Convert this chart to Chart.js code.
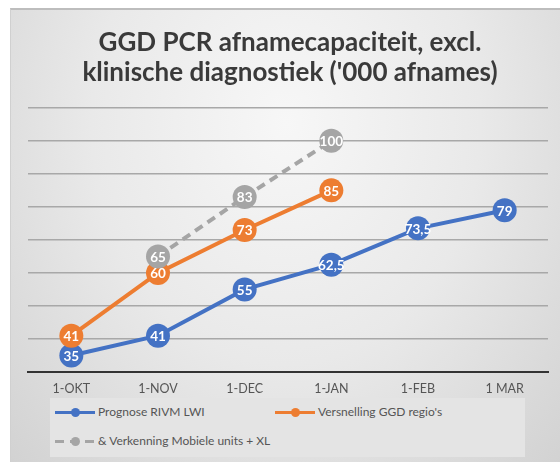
<!DOCTYPE html>
<html>
<head>
<meta charset="utf-8">
<script src="https://cdn.jsdelivr.net/npm/chart.js@4/dist/chart.umd.min.js"></script>
<style>
  body { margin: 0; background: #fff; }
  #wrap {
    position: absolute; left: 10px; top: 8px; width: 550px; height: 454px;
    border-top: 2px solid #bdbdbd; border-left: 1px solid #d0d0d0;
    background: radial-gradient(ellipse at 50% 25%, #f7f7f7 0%, #e9e9e9 50%, #d2d2d2 100%);
  }
  #chart { position: absolute; left: 0; top: 0; }
  #legend {
    position: absolute; left: 50px; top: 398px; width: 475px; height: 59px;
    background: #e4e4e4; font-family: Lato, sans-serif; font-size: 12px; color: #555;
  }
  .item { position: absolute; height: 16px; line-height: 16px; white-space: nowrap; }
  .sym { position: absolute; left: 0; top: 8px; width: 40px; height: 0; }
  .sym .ln { position: absolute; left: 0; right: 0; top: -1px; height: 3px; }
  .sym .dot { position: absolute; left: 16px; top: -4px; width: 9px; height: 9px; border-radius: 50%; }
  .item span.t { position: absolute; left: 43px; top: 0; }
</style>
</head>
<body>
<div id="wrap"></div>
<canvas id="chart" width="560" height="462"></canvas>
<div id="legend"></div>
<script>
var labels = ['1-OKT', '1-NOV', '1-DEC', '1-JAN', '1-FEB', '1 MAR'];
var prognose = [35, 41, 55, 62.5, 73.5, 79];
var versnelling = [41, 60, 73, 85, null, null];
var verkenning = [null, 65, 83, 100, null, null];
var seriesNames = ['Prognose RIVM LWI', "Versnelling GGD regio's", '& Verkenning Mobiele units + XL'];
var colors = ['#4472C4', '#ED7D31', '#A5A5A5'];

// white value labels inside the markers
var pointLabels = {
    id: 'pointLabels',
    afterDatasetsDraw: function(chart) {
        var ctx = chart.ctx;
        ctx.save();
        ctx.font = 'bold 13.5px Lato, sans-serif';
        ctx.fillStyle = '#fff';
        ctx.textAlign = 'center';
        ctx.textBaseline = 'middle';
        chart.data.datasets.forEach(function(ds, i) {
            chart.getDatasetMeta(i).data.forEach(function(p, j) {
                var v = ds.data[j];
                if (v === null) return;
                ctx.fillText(String(v).replace('.', ','), p.x, p.y + 1);
            });
        });
        ctx.restore();
    }
};

new Chart(document.getElementById('chart'), {
    type: 'line',
    data: {
        labels: labels,
        datasets: [
            { label: seriesNames[2], data: verkenning, borderColor: colors[2], backgroundColor: colors[2], borderWidth: 4, borderDash: [9, 6], pointRadius: 12, pointBorderWidth: 0 },
            { label: seriesNames[1], data: versnelling, borderColor: colors[1], backgroundColor: colors[1], borderWidth: 4, pointRadius: 12, pointBorderWidth: 0 },
            { label: seriesNames[0], data: prognose, borderColor: colors[0], backgroundColor: colors[0], borderWidth: 4, pointRadius: 12, pointBorderWidth: 0 }
        ]
    },
    options: {
        responsive: false,
        animation: false,
        layout: { padding: { left: 28, right: 8, top: 0, bottom: 65 } },
        plugins: {
            legend: { display: false },
            tooltip: { enabled: false },
            title: {
                display: true,
                text: ['GGD PCR afnamecapaciteit, excl.', "klinische diagnostiek ('000 afnames)"],
                font: { family: 'Lato, sans-serif', size: 26, weight: 'bold', lineHeight: 1.15 },
                color: '#3a3a3a',
                padding: { top: 28, bottom: 20 }
            }
        },
        scales: {
            x: {
                offset: true,
                grid: { display: false },
                border: { color: '#333', width: 2 },
                ticks: { color: '#555', font: { family: 'Lato, sans-serif', size: 12.5 }, padding: 1 }
            },
            y: {
                min: 30, max: 110,
                ticks: { display: false, stepSize: 10 },
                grid: { color: '#a8a8a8', lineWidth: 1.5, drawTicks: false },
                border: { display: false }
            }
        }
    },
    plugins: [pointLabels]
});

// legend in the style of the original
var legendItems = [
    { i: 0, x: 5, y: 6, dash: false },
    { i: 1, x: 225, y: 6, dash: false },
    { i: 2, x: 5, y: 35, dash: true }
];
var lg = document.getElementById('legend');
legendItems.forEach(function(it) {
    var c = colors[it.i];
    var line = it.dash
        ? 'background: repeating-linear-gradient(90deg,' + c + ' 0 9px, transparent 9px 15px);'
        : 'background:' + c + ';';
    var d = document.createElement('div');
    d.className = 'item';
    d.style.left = it.x + 'px';
    d.style.top = it.y + 'px';
    d.innerHTML = '<div class="sym"><div class="ln" style="' + line + '"></div><div class="dot" style="background:' + c + '"></div></div>' +
        '<span class="t">' + seriesNames[it.i] + '</span>';
    lg.appendChild(d);
});
</script>
</body>
</html>
